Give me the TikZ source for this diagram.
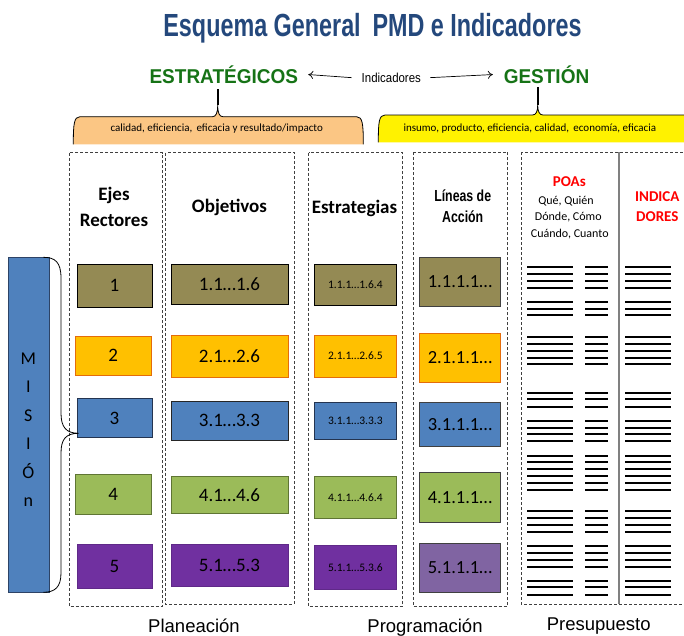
\documentclass[tikz,border=0pt]{standalone}
\usepackage{fontspec}
\setmainfont{Carlito}
\newfontfamily\titlef[FakeStretch=0.73]{Liberation Sans}
\newfontfamily\greenf[FakeStretch=0.95]{Liberation Sans}
\newfontfamily\narrowf[FakeStretch=0.77]{Liberation Sans}
\newfontfamily\indf[FakeStretch=0.88]{Liberation Sans}
\newfontfamily\arialf{Liberation Sans}
\usetikzlibrary{arrows.meta,calc}
\newcommand\fs[1]{\fontsize{#1}{#1}\selectfont}
\definecolor{titleblue}{RGB}{36,72,124}
\definecolor{dgreen}{RGB}{22,115,22}
\definecolor{olivef}{RGB}{148,138,84}
\definecolor{orangef}{RGB}{255,192,0}
\definecolor{oranged}{RGB}{228,108,10}
\definecolor{bluef}{RGB}{79,129,189}
\definecolor{blued}{RGB}{36,52,80}
\definecolor{greenf}{RGB}{155,187,89}
\definecolor{greend}{RGB}{95,117,52}
\definecolor{purplef}{RGB}{112,48,160}
\definecolor{purple2}{RGB}{128,100,162}
\definecolor{bracko}{RGB}{251,198,132}
\definecolor{grayd}{RGB}{64,64,64}
\newcommand\bx[7]{\node[#6, minimum width={(#4-#2)*1pt}, minimum height={(#5-#3)*1pt}] (#1) at ({(#2+#4)/2},{(#3+#5)/2}) {#7};}
\begin{document}
\begin{tikzpicture}[x=1pt,y=-1pt,
  box/.style={draw, rectangle, inner sep=0pt, line width=1pt},
  bolive/.style={box, fill=olivef, draw=black},
  borange/.style={box, fill=orangef, draw=oranged, line width=0.8pt},
  bblue/.style={box, fill=bluef, draw=blued},
  bgreen/.style={box, fill=greenf, draw=greend},
  bpurple/.style={box, fill=purplef, draw=purplef!85!black, line width=0.6pt},
  bpurple2/.style={box, fill=purple2, draw=grayd},
  c4/.style={draw=grayd},
  t1/.style={font=\fs{19}},
  t3/.style={font=\fs{11.5}},
  t4/.style={font=\fs{18.5}},
  col/.style={draw=grayd, line width=0.9pt, dash pattern=on 3pt off 2pt},
  hdr/.style={anchor=base, inner sep=0pt, font=\fs{19}\bfseries},
  poaline/.style={line width=1.9pt, black},
  lbl/.style={anchor=base, inner sep=0pt, font=\arialf\fs{18.5}},
  brk/.style={draw=black, line width=0.8pt},
  arr/.style={line width=0.7pt, -{To[length=5pt,width=8pt]}}
]
\useasboundingbox (0,0) rectangle (684,635);

% title
\node[anchor=base, inner sep=0pt, text=titleblue, font=\titlef\fs{32}\bfseries] (title) at (372.5,36) {Esquema General\, PMD e Indicadores};

% indicator header
\node[anchor=base, inner sep=0pt, text=dgreen, font=\greenf\fs{20}\bfseries] (est) at (223.8,83.3) {ESTRATÉGICOS};
\node[anchor=base, inner sep=0pt, text=dgreen, font=\greenf\fs{20}\bfseries] (ges) at (546.5,83.3) {GESTIÓN};
\node[anchor=base, inner sep=0pt, font=\indf\fs{13}] (ind) at (391.3,82.3) {Indicadores};
\draw[arr] ($(ind.west)+(-10,0)$) -- ($(est.east)+(10,0)$);
\draw[arr] ($(ind.east)+(9,0)$) -- ($(ges.west)+(-10.7,0)$);

% brackets
\coordinate (pk1) at (217.7,105);
\coordinate (pk2) at (537.7,105);
\path[brk, fill=bracko] (73.3,144.3) .. controls (73.3,124) and (74,116.7) .. (80,116.7) -- (212.5,116.7)
  .. controls (216,116.7) and (217.7,113) .. (pk1) .. controls (217.7,113) and (219.4,116.7) .. (222.9,116.7)
  -- (356.6,116.7) .. controls (362.6,116.7) and (363.3,124) .. (363.3,144.3);
\path[brk, fill=yellow] (378.3,142.3) .. controls (378.3,122) and (379,115) .. (385,115) -- (532.5,115)
  .. controls (536,115) and (537.7,111.5) .. (pk2) .. controls (537.7,111.5) and (539.4,115) .. (542.9,115)
  -- (690,115) -- (690,142.3);
\draw[line width=2.2pt] (pk1) -- ($(pk1 |- est.south)+(0,5)$);
\draw[line width=2.2pt] (pk2) -- ($(pk2 |- ges.south)+(0,3.4)$);
\node[anchor=base, inner sep=0pt, font=\fs{11}] (tq1) at (216.7,131.5) {calidad, eficiencia,\, eficacia y resultado/impacto};
\node[anchor=base west, inner sep=0pt, font=\fs{11}] (tq2) at (403.3,131.5) {insumo, producto, eficiencia, calidad,\, economía, eficacia};

% dashed columns
\draw[col] (69,152.7) rectangle (162.7,606);
\draw[col] (165.7,152.7) rectangle (294.3,604);
\draw[col] (308.7,152.7) rectangle (402.3,606.7);
\draw[col] (413.3,152) rectangle (507.3,606.7);
\draw[col] (521.3,152) rectangle (700,604);
\draw[line width=1.4pt, gray] (619,152) -- (619,604);

% headers
\node[hdr] (h1a) at (114,200) {Ejes};
\node[hdr] (h1b) at (114,226.7) {Rectores};
\node[hdr] (h2) at (229.5,212.7) {Objetivos};
\node[hdr] (h3) at (354.5,213.3) {Estrategias};
\node[hdr, font=\narrowf\fs{16}\bfseries] (h4a) at (462.7,201.7) {Líneas de};
\node[hdr, font=\narrowf\fs{16}\bfseries] (h4b) at (462.7,222.3) {Acción};
\node[hdr, font=\fs{15}\bfseries, text=red] (h5) at (569.3,186.7) {POAs};
\node[anchor=base, inner sep=0pt, font=\fs{12}] (q1) at (566,204) {Qué, Quién};
\node[anchor=base, inner sep=0pt, font=\fs{12}] (q2) at (568.3,220.7) {Dónde, Cómo};
\node[anchor=base, inner sep=0pt, font=\fs{12}] (q3) at (569.8,237.3) {Cuándo, Cuanto};
\node[hdr, font=\fs{15}\bfseries, text=red] (h6a) at (657.3,201.7) {INDICA};
\node[hdr, font=\fs{15}\bfseries, text=red] (h6b) at (657.3,221.7) {DORES};

% mision
\node[draw=blued!80!bluef, fill=bluef, line width=0.8pt, inner sep=0pt, minimum width=41pt, minimum height=335pt] (mision) at (28.8,424.8) {};
\foreach \l/\yy in {M/364,I/392.5,S/421,I/449.5,Ó/478,n/506.5}
  \node[anchor=base, inner sep=0pt, font=\fs{18}] at (28.3,\yy) {\l};

% column 1
\bx{e1}{77}{264}{152}{307.7}{bolive,t1}{1}
\bx{e2}{75.3}{336}{151}{375}{borange,t1}{2}
\bx{e3}{77}{398.3}{152}{437.7}{bblue,t1}{3}
\bx{e4}{75.3}{474.3}{151.3}{514.3}{bgreen,t1}{4}
\bx{e5}{77}{544}{152}{588.3}{bpurple,t1}{5}
% column 2
\bx{o1}{171}{264.3}{288}{304}{bolive,t1}{1.1…1.6}
\bx{o2}{171}{335.3}{288}{377}{borange,t1}{2.1…2.6}
\bx{o3}{171}{401.7}{288}{440}{bblue,t1,draw=black!85}{3.1…3.3}
\bx{o4}{171}{476.7}{288}{513.3}{bgreen,t1}{4.1…4.6}
\bx{o5}{171}{544}{288}{586.7}{bpurple,t1}{5.1…5.3}
% column 3
\bx{s1}{314}{264.3}{396.7}{305.7}{bolive,t3}{1.1.1…1.6.4}
\bx{s2}{314}{335.3}{396.7}{377}{borange,t3}{2.1.1…2.6.5}
\bx{s3}{314}{402}{396.7}{439.3}{bblue,t3}{3.1.1…3.3.3}
\bx{s4}{314}{476.7}{396.7}{518.7}{bgreen,t3}{4.1.1…4.6.4}
\bx{s5}{314}{545.7}{396.7}{589.3}{bpurple,t3}{5.1.1…5.3.6}
% column 4
\bx{l1}{419.3}{257.3}{500.7}{306.7}{bolive,c4,t4}{1.1.1.1…}
\bx{l2}{419.3}{333.3}{500.7}{382.7}{borange,t4}{2.1.1.1…}
\bx{l3}{419.3}{402.7}{500.7}{446}{bblue,c4,t4}{3.1.1.1…}
\bx{l4}{419.3}{472.7}{500.7}{522.7}{bgreen,c4,t4}{4.1.1.1…}
\bx{l5}{419.3}{543.3}{500.7}{592.7}{bpurple2,t4}{5.1.1.1…}

% brace from mision to the axes
\coordinate (btop) at (43.3,257.3);
\coordinate (bbot) at (43.3,592.3);
\coordinate (tip) at (78.7,433.3);
\draw[line width=0.8pt] (btop) .. controls (55,257.3) and (61,262) .. (61,278) -- (61,413)
  .. controls (61,427) and (66,433.3) .. (tip)
  .. controls (66,433.3) and (61,439) .. (61,453) -- (61,573)
  .. controls (61,587) and (55,592.3) .. (bbot);

% POA lines
\foreach \yy in {266.7,274,281,287.7, 301.7,308.7,315.3, 336.7,344,350.7,357.7,364.3,
  392.7,399.3,406.7, 420.7,427.7,434.3,441.3, 455.7,462,469.3,475.7,483,489.7,
  510.7,518,524.7,531.7, 545.7,553,559.7,566.7, 580.7,587.3,594.7}
{
  \draw[poaline] (527.3,\yy) -- (573.3,\yy);
  \draw[poaline] (585.3,\yy) -- (608.3,\yy);
  \draw[poaline] (625.3,\yy) -- (671,\yy);
}

% bottom labels
\node[lbl] (pl) at (194,632) {Planeación};
\node[lbl] (pr) at (425,632) {Programación};
\node[lbl] (ps) at (598.7,630) {Presupuesto};
\end{tikzpicture}
\end{document}
